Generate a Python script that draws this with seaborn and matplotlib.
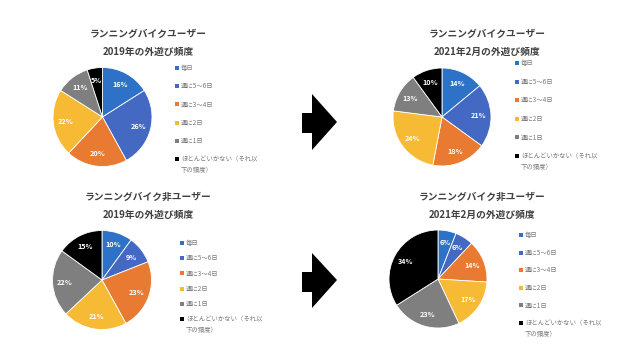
import matplotlib
matplotlib.use("Agg")
import matplotlib.pyplot as plt
import seaborn as sns
from matplotlib.patches import Rectangle, Polygon

sns.set_theme(style="white")
plt.rcParams['font.family'] = ['Noto Sans CJK JP', 'DejaVu Sans']

categories = ["毎日", "週に5～6日", "週に3～4日", "週に2日", "週に1日", "ほとんどいかない（それ以\n下の頻度）"]
titles = ["ランニングバイクユーザー\n2019年の外遊び頻度",
          "ランニングバイクユーザー\n2021年2月の外遊び頻度",
          "ランニングバイク非ユーザー\n2019年の外遊び頻度",
          "ランニングバイク非ユーザー\n2021年2月の外遊び頻度"]
users_2019 = [16, 26, 20, 22, 11, 5]
users_2021 = [14, 21, 18, 24, 13, 10]
nonusers_2019 = [10, 9, 23, 21, 22, 15]
nonusers_2021 = [6, 6, 14, 17, 23, 34]

colors = sns.color_palette(["#2D72C6", "#4469C2", "#E87A31", "#F6BA35", "#7F7F7F", "#000000"])

W, H = 640, 359
fig = plt.figure(figsize=(W / 100, H / 100), dpi=100)
fig.patch.set_facecolor("white")

def fx(x):
    return x / W

def fy(y):
    return 1 - y / H

# layout: (pie center x, center y, radius, title center x, title y1, legend x, legend y0, legend step)
panels = [
    (users_2019, 102.5, 117, 49.5, 148, 34, 177, 68, 18.2),
    (users_2021, 442, 117, 49, 487, 34, 517, 63, 18.6),
    (nonusers_2019, 102, 280, 49.5, 148, 197, 182, 243, 15.2),
    (nonusers_2021, 438, 279, 49, 482, 197, 521, 235, 17.6),
]

for (vals, cx, cy, r, tx, ty, lx, ly, step), title in zip(panels, titles):
    ax = fig.add_axes([fx(cx - r), fy(cy + r), 2 * r / W, 2 * r / H])
    ax.pie(vals, colors=colors, startangle=90, counterclock=False,
           autopct=lambda p: f"{p:.0f}%", pctdistance=0.75,
           wedgeprops=dict(linewidth=0.6, edgecolor="white"),
           textprops=dict(color="white", fontsize=5.2, fontweight="bold"))
    ax.set_xlim(-1, 1)
    ax.set_ylim(-1, 1)
    ax.set_aspect("auto")
    ax.axis("off")
    t1, t2 = title.split("\n")
    fig.text(fx(tx), fy(ty), t1, ha="center", va="center", fontsize=7,
             fontweight="bold", color="#404040")
    fig.text(fx(tx), fy(ty + 18), t2, ha="center", va="center", fontsize=7,
             fontweight="bold", color="#404040")
    for i, (cat, col) in enumerate(zip(categories, colors)):
        yy = ly + i * step
        fig.patches.append(Rectangle((fx(lx - 2), fy(yy + 2)), 4 / W, 4 / H,
                                     transform=fig.transFigure, facecolor=col,
                                     edgecolor="none"))
        lines = cat.split("\n")
        fig.text(fx(lx + 4), fy(yy), lines[0], ha="left", va="center",
                 fontsize=4.6, color="#7a7a7a")
        if len(lines) > 1:
            fig.text(fx(lx + 4), fy(yy + 11), lines[1], ha="left", va="center",
                     fontsize=4.6, color="#7a7a7a")

# arrows
for (x0, ytop, ybot, ytip, sy0, sy1) in [(302, 94, 150, 122, 113, 133), (302, 253, 308, 280, 272, 292)]:
    xs = 312
    xt = 337
    pts = [(x0, sy0), (xs, sy0), (xs, ytop), (xt, ytip), (xs, ybot), (xs, sy1), (x0, sy1)]
    fig.patches.append(Polygon([(fx(a), fy(b)) for a, b in pts], closed=True,
                               transform=fig.transFigure, facecolor="black",
                               edgecolor="none"))

fig.savefig("out.png", dpi=100, facecolor="white")
